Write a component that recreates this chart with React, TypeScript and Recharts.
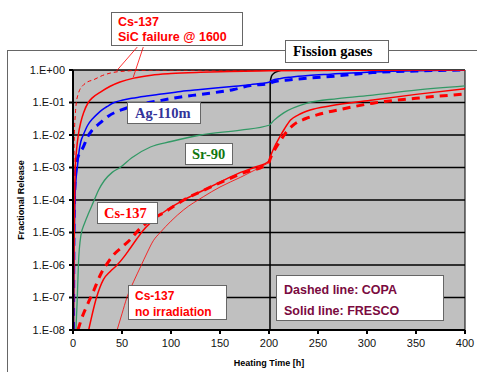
import React from "react";
import {
  ComposedChart,
  Line,
  XAxis,
  YAxis,
  CartesianGrid,
  ReferenceLine,
} from "recharts";

// Heating time [h] and fractional release (given as log10) for each curve
const sicFrescoT = [0.5, 1, 1.5, 2, 2.3, 3.5, 5.4, 8, 11, 15.6, 20, 28, 38, 48, 62, 80, 100, 130, 160, 200, 250, 300, 400];
const sicFrescoLog = [-8, -6, -4.3, -3.4, -3, -2.5, -2, -1.6, -1.3, -1, -0.85, -0.68, -0.5, -0.37, -0.25, -0.16, -0.11, -0.07, -0.045, -0.025, -0.012, -0.005, 0];

const sicCopaT = [0.3, 0.7, 1.4, 2.3, 3.4, 5, 7, 10, 14, 21, 30, 41, 55, 75, 100, 200, 300, 400];
const sicCopaLog = [-8, -4, -2, -1.4, -1, -0.77, -0.6, -0.48, -0.38, -0.3, -0.17, -0.075, -0.03, -0.005, 0, 0, 0, 0];

const agFrescoT = [0.5, 1, 2, 3, 4.4, 6.4, 8, 10.5, 15, 20, 25, 30, 35, 42, 50, 60, 75, 90, 110, 130, 165, 181, 200, 203, 212, 222, 240, 263, 306, 350, 400];
const agFrescoLog = [-8, -6, -4, -3.4, -3, -2.46, -2.2, -2, -1.7, -1.5, -1.35, -1.22, -1.12, -1.0, -0.93, -0.87, -0.8, -0.74, -0.66, -0.6, -0.5, -0.45, -0.38, -0.32, -0.26, -0.22, -0.17, -0.13, -0.06, -0.02, 0];

const agCopaT = [0.5, 1, 2, 4.2, 7, 10.5, 15, 19.6, 28, 36, 50, 70, 89, 110, 130, 164, 181, 200, 205, 222, 240, 263, 306, 350, 400];
const agCopaLog = [-8, -5, -3.5, -2.77, -2.55, -2.37, -2.05, -1.85, -1.62, -1.42, -1.22, -1.05, -0.94, -0.83, -0.75, -0.6, -0.48, -0.42, -0.36, -0.3, -0.25, -0.2, -0.08, -0.03, 0];

const srT = [3, 4.4, 5.5, 8, 12, 16, 21, 26, 32, 40, 48, 60, 79, 100, 130, 171, 200, 205, 215, 239, 270, 306, 350, 400];
const srLog = [-8, -7, -6, -5.1, -4.7, -4.4, -4.05, -3.7, -3.4, -3.15, -3.0, -2.7, -2.37, -2.2, -2.0, -1.85, -1.7, -1.55, -1.32, -1.02, -0.88, -0.77, -0.62, -0.49];

const csFrescoT = [16, 24, 31, 38, 45, 52, 58, 65, 72, 85, 96, 113, 133, 150, 171, 185, 200, 201, 205, 211, 216, 222, 230, 242, 263, 306, 350, 400];
const csFrescoLog = [-8, -7, -6.45, -6.2, -6.0, -5.75, -5.5, -5.2, -4.92, -4.55, -4.3, -4.0, -3.7, -3.45, -3.15, -3.0, -2.8, -2.7, -2.4, -2.06, -1.8, -1.54, -1.38, -1.23, -1.1, -0.92, -0.75, -0.58];

const csCopaT = [5, 10, 15, 21, 28, 35, 41, 50, 58, 69, 80, 92, 113, 137, 171, 200, 201, 205, 211, 218, 225, 237, 249, 275, 306, 350, 400];
const csCopaLog = [-8, -7.55, -7.2, -6.8, -6.3, -5.95, -5.7, -5.45, -5.23, -4.86, -4.6, -4.4, -4.0, -3.65, -3.2, -2.85, -2.75, -2.5, -2.2, -1.9, -1.69, -1.5, -1.38, -1.2, -1.02, -0.87, -0.74];

const csNoIrrT = [45, 50, 55, 62, 69, 76, 82, 89, 100, 113, 133, 150, 171, 200];
const csNoIrrLog = [-8, -7.5, -7, -6.5, -6.05, -5.6, -5.25, -5.0, -4.65, -4.3, -3.9, -3.6, -3.3, -2.85];

const fissionT = [201, 201.2, 202.5, 205, 209, 215, 300, 400];
const fissionLog = [-8, -0.4, -0.19, -0.1, -0.04, 0, 0, 0];

const xTicks = [0, 50, 100, 150, 200, 250, 300, 350, 400];
const yTicks = [1e-8, 1e-7, 1e-6, 1e-5, 1e-4, 1e-3, 1e-2, 1e-1, 1];

const toPoints = (t: number[], lg: number[]) => t.map((x, i) => ({ t: x, y: Math.pow(10, lg[i]) }));

const fmtExp = (v: number) => {
  const e = Math.round(Math.log10(v));
  return `1.E${e < 0 ? "-" : "+"}${String(Math.abs(e)).padStart(2, "0")}`;
};

const sans = '"Liberation Sans", Arial, sans-serif';
const serif = '"Liberation Serif", "Times New Roman", serif';

const box: React.CSSProperties = {
  position: "absolute",
  background: "#fff",
  border: "1px solid #666",
  boxSizing: "border-box",
  fontWeight: "bold",
};

export default function App() {
  return (
    <div style={{ position: "absolute", left: 0, top: 0, width: 477, height: 372, overflow: "hidden" }}>
      {/* outer frame */}
      <div style={{ position: "absolute", left: 7, top: 50, width: 520, height: 400, border: "1px solid #666" }} />
      <div style={{ position: "absolute", left: 0, top: 0 }}>
        <ComposedChart width={477} height={372} margin={{ top: 70, right: 12, bottom: 12, left: 8 }}>
          <CartesianGrid vertical={false} stroke="#000" strokeWidth={1.5} fill="#c0c0c0" fillOpacity={1} />
          <XAxis
            type="number"
            dataKey="t"
            domain={[0, 400]}
            ticks={xTicks}
            height={30}
            tickSize={4}
            tickMargin={5}
            stroke="#000"
            strokeWidth={2}
            tick={{ fill: "#111", fontSize: 11, fontFamily: sans }}
            allowDuplicatedCategory={false}
          />
          <YAxis
            scale="log"
            domain={[1e-8, 1]}
            ticks={yTicks}
            allowDataOverflow
            width={65}
            tickSize={4}
            tickMargin={4}
            stroke="#000"
            strokeWidth={2}
            tickFormatter={fmtExp}
            tick={{ fill: "#111", fontSize: 11, fontFamily: sans }}
          />
          <ReferenceLine x={400} stroke="#000" strokeWidth={1} />
          <ReferenceLine
            segment={[{ x: 65.6, y: 5.1 }, { x: 44.3, y: 0.93 }]}
            stroke="#ff0000"
            strokeWidth={0.8}
            ifOverflow="visible"
          />
          <ReferenceLine
            segment={[{ x: 71.7, y: 5.1 }, { x: 61.5, y: 0.6 }]}
            stroke="#ff0000"
            strokeWidth={0.8}
            ifOverflow="visible"
          />
          <Line data={toPoints(fissionT, fissionLog)} dataKey="y" type="monotone" stroke="#000" strokeWidth={1.5} dot={false} isAnimationActive={false} />
          <Line data={toPoints(srT, srLog)} dataKey="y" type="monotone" stroke="#339966" strokeWidth={1.3} dot={false} isAnimationActive={false} />
          <Line data={toPoints(agCopaT, agCopaLog)} dataKey="y" type="monotone" stroke="#0000ff" strokeWidth={3} strokeDasharray="8 6" dot={false} isAnimationActive={false} />
          <Line data={toPoints(agFrescoT, agFrescoLog)} dataKey="y" type="monotone" stroke="#0000ff" strokeWidth={1.5} dot={false} isAnimationActive={false} />
          <Line data={toPoints(csNoIrrT, csNoIrrLog)} dataKey="y" type="monotone" stroke="#ff0000" strokeWidth={0.8} dot={false} isAnimationActive={false} />
          <Line data={toPoints(csCopaT, csCopaLog)} dataKey="y" type="monotone" stroke="#ff0000" strokeWidth={3} strokeDasharray="8 6" dot={false} isAnimationActive={false} />
          <Line data={toPoints(csFrescoT, csFrescoLog)} dataKey="y" type="monotone" stroke="#ff0000" strokeWidth={1.5} dot={false} isAnimationActive={false} />
          <Line data={toPoints(sicCopaT, sicCopaLog)} dataKey="y" type="monotone" stroke="#ff0000" strokeWidth={1} strokeDasharray="4 3" dot={false} isAnimationActive={false} />
          <Line data={toPoints(sicFrescoT, sicFrescoLog)} dataKey="y" type="monotone" stroke="#ff0000" strokeWidth={1.5} dot={false} isAnimationActive={false} />
        </ComposedChart>
      </div>

      {/* axis titles */}
      <div
        style={{
          position: "absolute", left: 21, top: 200, transform: "translate(-50%, -50%) rotate(-90deg)",
          fontFamily: sans, fontWeight: "bold", fontSize: 9, whiteSpace: "nowrap", color: "#000",
        }}
      >
        Fractional Release
      </div>
      <div
        style={{
          position: "absolute", left: 269, top: 363, transform: "translate(-50%, -50%)",
          fontFamily: sans, fontWeight: "bold", fontSize: 9, whiteSpace: "nowrap", color: "#000",
        }}
      >
        Heating Time [h]
      </div>

      {/* annotations */}
      <div style={{ ...box, left: 111, top: 12, width: 132, height: 34, fontFamily: sans, fontSize: 12.5, color: "#ff0000", padding: "2px 0 0 6px", lineHeight: "15px" }}>
        Cs-137<br />SiC failure @ 1600
      </div>
      <div style={{ ...box, left: 285, top: 40, width: 104, height: 23, fontFamily: serif, fontSize: 14.5, color: "#000", paddingLeft: 7, lineHeight: "21px" }}>
        Fission gases
      </div>
      <div style={{ ...box, left: 127, top: 102, width: 74, height: 22, fontFamily: serif, fontSize: 14.5, color: "#333399", paddingLeft: 7, lineHeight: "20px" }}>
        Ag-110m
      </div>
      <div style={{ ...box, left: 185, top: 143, width: 48, height: 22, fontFamily: serif, fontSize: 14.5, color: "#117711", paddingLeft: 6, lineHeight: "20px" }}>
        Sr-90
      </div>
      <div style={{ ...box, left: 97, top: 202, width: 61, height: 22, fontFamily: serif, fontSize: 14.5, color: "#ff0000", paddingLeft: 6, lineHeight: "20px" }}>
        Cs-137
      </div>
      <div style={{ ...box, left: 128, top: 285, width: 99, height: 35, fontFamily: sans, fontSize: 12, color: "#ff0000", padding: "2px 0 0 6px", lineHeight: "16px" }}>
        Cs-137<br />no irradiation
      </div>
      <div style={{ ...box, left: 276, top: 275, width: 168, height: 46, fontFamily: sans, fontSize: 12.5, color: "#7a0a40", padding: "4px 0 0 7px", lineHeight: "21px" }}>
        Dashed line: COPA<br />Solid line: FRESCO
      </div>
    </div>
  );
}
